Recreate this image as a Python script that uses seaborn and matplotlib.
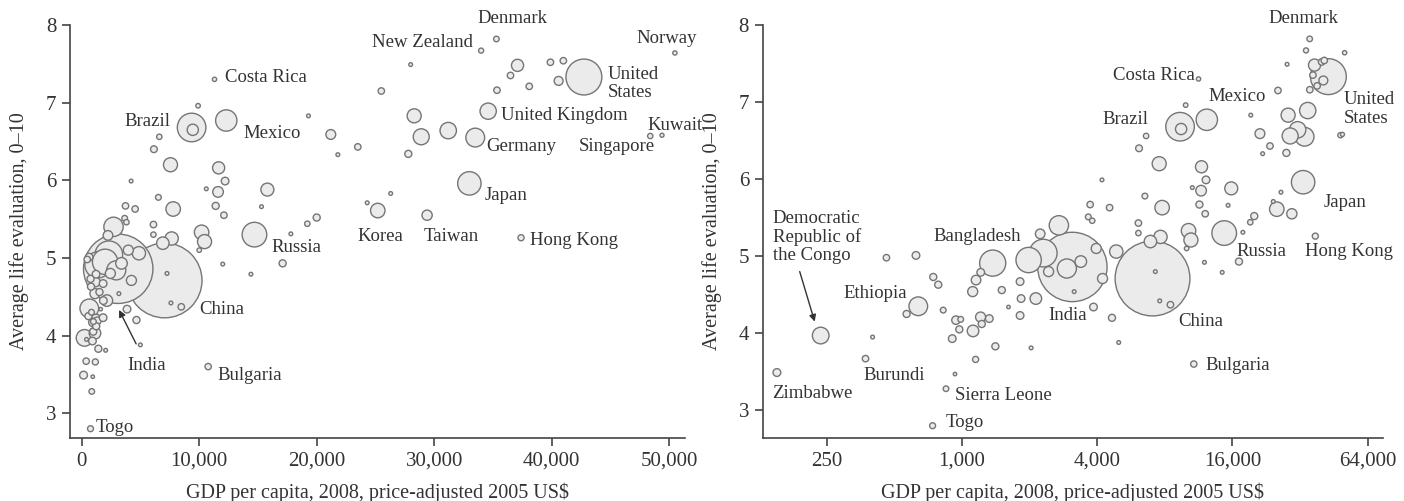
import pandas as pd
import matplotlib.pyplot as plt
import seaborn as sns
from matplotlib.ticker import FuncFormatter, NullLocator


# labelled countries
names = ["Togo", "Zimbabwe", "Democratic Republic of the Congo", "Burundi", "Ethiopia",
         "Sierra Leone", "Bangladesh", "India", "China", "Bulgaria", "Russia", "Hong Kong",
         "Japan", "Korea", "Taiwan", "Germany", "United Kingdom", "United States", "Denmark",
         "New Zealand", "Norway", "Kuwait", "Singapore", "Costa Rica", "Brazil", "Mexico"]
gdp = [740, 150, 235, 372, 639, 849, 1370, 3100, 7050, 10760, 14700, 37400, 33000, 25200,
       29400, 33500, 34600, 42750, 35300, 34000, 50500, 49400, 48400, 11300, 9350, 12300]
life = [2.80, 3.49, 3.97, 3.67, 4.35, 3.28, 4.91, 4.86, 4.71, 3.60, 5.30, 5.26, 5.96, 5.61,
        5.55, 6.55, 6.89, 7.33, 7.82, 7.67, 7.64, 6.58, 6.57, 7.30, 6.68, 6.77]
pop = [6.5, 12.5, 64, 8, 81, 5.6, 160, 1140, 1325, 7.6, 142, 7, 128, 48, 23, 82, 61, 304,
       5.5, 4.3, 2.5, 2.0, 4.8, 2.5, 192, 106]

# other countries (no label)
other_gdp = [9900, 9450, 6600, 6140, 7550, 4200, 11650, 12200, 11600, 10600, 11400, 12100,
             15800, 15300, 19300, 21200, 21800, 23500, 25500, 28000, 37100, 36500, 39900,
             41000, 40600, 38100, 35350, 28300, 28900, 31200, 27800, 26300, 24300, 20000,
             19200, 17800, 17100, 12000, 14400, 2700, 6100, 6100, 6900, 7650, 10200, 10450,
             10000, 7780, 6520, 4540, 3720, 3650, 3800, 461, 624, 567, 400, 745, 784, 825,
             931, 905, 940, 973, 987, 1120, 1210, 1225, 1323, 1150, 1408, 1116, 1155, 1212,
             1504, 1814, 1833, 1814, 2132, 1611, 2031, 2229, 1980, 2300, 2930, 2430, 3380,
             3960, 4224, 3158, 4862, 3850, 4653, 4985, 7255, 7590, 8470]
other_life = [6.96, 6.65, 6.56, 6.40, 6.20, 5.99, 6.16, 5.99, 5.85, 5.89, 5.67, 5.55,
              5.88, 5.66, 6.83, 6.59, 6.33, 6.43, 7.15, 7.49, 7.48, 7.35, 7.52,
              7.54, 7.28, 7.21, 7.16, 6.83, 6.56, 6.64, 6.34, 5.83, 5.71, 5.52,
              5.44, 5.31, 4.93, 4.92, 4.79, 5.40, 5.43, 5.30, 5.19, 5.25, 5.33, 5.21,
              5.10, 5.63, 5.78, 5.63, 5.67, 5.51, 5.46, 4.98, 5.01, 4.25, 3.95, 4.73, 4.63, 4.30,
              3.47, 3.93, 4.17, 4.05, 4.18, 4.03, 4.21, 4.12, 4.19, 3.66, 3.83, 4.54, 4.69, 4.79,
              4.56, 4.67, 4.45, 4.23, 4.45, 4.34, 3.81, 5.29, 4.95, 5.04, 4.84, 4.80, 4.93,
              5.10, 4.71, 4.54, 5.06, 4.34, 4.20, 3.88, 4.80, 4.42, 4.37]
other_pop = [3, 28, 5, 9, 45, 1.5, 33, 12, 25, 1.5, 10, 8,
             38, 1.5, 1.5, 21, 1.5, 8, 8, 1.5, 33, 8, 8,
             8, 17, 8, 8, 45, 59, 62, 10, 1.5, 1.5, 10,
             5, 1.5, 10, 1.5, 1.5, 87, 8, 5, 35, 40, 48, 45,
             3, 48, 6, 8, 8, 6, 5, 8, 12, 10, 1.5, 10, 10, 6,
             1, 12, 15, 10, 6, 30, 22, 10, 12, 7, 10, 22, 20, 12,
             10, 12, 12, 12, 30, 1, 1.5, 20, 150, 180, 85, 22, 30,
             22, 22, 1.5, 40, 12, 10, 1.5, 1.5, 1.5, 8]

df = pd.DataFrame({
    "gdp": gdp + other_gdp,
    "life": life + other_life,
    "pop": pop + other_pop,
})
df = df.sort_values("pop", ascending=False)

plt.rcParams["font.family"] = ["Liberation Serif", "DejaVu Serif"]
text_col = "#333333"

fig = plt.figure(figsize=(14.04, 5.01), dpi=100)
ax1 = fig.add_axes([0.0499, 0.1257, 0.438, 0.8244])
ax2 = fig.add_axes([0.5434, 0.1257, 0.4416, 0.8244])

for ax in (ax1, ax2):
    sns.scatterplot(data=df, x="gdp", y="life", size="pop", sizes=(4, 2900),
                    size_norm=(0, 1325), legend=False, color="#ebebeb",
                    edgecolor="#757575", linewidth=1.0, ax=ax, clip_on=False)
    ax.spines["top"].set_visible(False)
    ax.spines["right"].set_visible(False)
    for s in ("left", "bottom"):
        ax.spines[s].set_color("#444444")
        ax.spines[s].set_linewidth(1.2)
    ax.tick_params(direction="out", length=6, width=1.2, color="#444444",
                   labelsize=15, labelcolor=text_col, pad=4)
    ax.set_yticks([3, 4, 5, 6, 7, 8])
    ax.set_ylabel("Average life evaluation, 0\u201310", fontsize=14.5,
                  color=text_col, labelpad=12)
    ax.set_xlabel(r"GDP per capita, 2008, price-adjusted 2005 US\$", fontsize=14.5,
                  color=text_col, labelpad=8)
    ax.xaxis.set_major_formatter(FuncFormatter(lambda v, p: f"{v:,.0f}"))

# left panel: linear
ax1.set_xlim(-1000, 51360)
ax1.set_ylim(2.68, 8)
ax1.set_xticks([0, 10000, 20000, 30000, 40000, 50000])

# right panel: log
ax2.set_xscale("log", base=2)
ax2.set_xlim(130, 74800)
ax2.set_ylim(2.64, 8)
ax2.set_xticks([250, 1000, 4000, 16000, 64000])
ax2.xaxis.set_minor_locator(NullLocator())
ax2.xaxis.set_major_formatter(FuncFormatter(lambda v, p: f"{v:,.0f}"))

lab = dict(fontsize=13.5, color=text_col, va="center", linespacing=1.1)

left_labels = [
    ("Denmark", 36650, 8.08, "center"), ("New Zealand", 33330, 7.77, "right"),
    ("Norway", 47250, 7.83, "left"), ("United\nStates", 44800, 7.25, "left"),
    ("United Kingdom", 35710, 6.84, "left"), ("Kuwait", 48150, 6.71, "left"),
    ("Singapore", 42350, 6.44, "left"), ("Germany", 34410, 6.44, "left"),
    ("Japan", 34270, 5.81, "left"), ("Korea", 23440, 5.27, "left"),
    ("Taiwan", 29110, 5.27, "left"), ("Hong Kong", 38180, 5.23, "left"),
    ("Costa Rica", 12160, 7.32, "left"), ("Brazil", 7570, 6.76, "right"),
    ("Mexico", 13800, 6.60, "left"), ("Russia", 16130, 5.135, "left"),
    ("China", 9970, 4.34, "left"), ("Bulgaria", 11590, 3.49, "left"),
    ("Togo", 1190, 2.82, "left"),
]
for t, x, y, ha in left_labels:
    ax1.text(x, y, t, ha=ha, clip_on=False, **lab)
ax1.annotate("India", xy=(3170, 4.33), xytext=(3890, 3.62), ha="left",
             arrowprops=dict(arrowstyle="-|>", color="#333333", lw=1.0,
                             shrinkA=8, shrinkB=0, mutation_scale=10),
             **lab)

right_labels = [
    ("Denmark", 33000, 8.08, "center"), ("Costa Rica", 10830, 7.34, "right"),
    ("Mexico", 12550, 7.07, "left"), ("Brazil", 6780, 6.78, "right"),
    ("United\nStates", 50200, 6.91, "left"), ("Japan", 40600, 5.70, "left"),
    ("Russia", 16670, 5.06, "left"), ("Hong Kong", 33600, 5.06, "left"),
    ("China", 9220, 4.15, "left"), ("India", 2420, 4.23, "left"),
    ("Bulgaria", 12130, 3.58, "left"), ("Bangladesh", 746, 5.25, "left"),
    ("Ethiopia", 298, 4.52, "left"), ("Zimbabwe", 143, 3.22, "left"),
    ("Burundi", 366, 3.45, "left"), ("Sierra Leone", 931, 3.19, "left"),
    ("Togo", 849, 2.84, "left"),
]
for t, x, y, ha in right_labels:
    ax2.text(x, y, t, ha=ha, clip_on=False, **lab)
ax2.text(144, 5.25, "Democratic\nRepublic of\nthe Congo", ha="left", **lab)
ax2.annotate("", xy=(221, 4.15), xytext=(189.5, 4.80),
             arrowprops=dict(arrowstyle="-|>", color="#333333", lw=1.0,
                             shrinkA=0, shrinkB=0, mutation_scale=10))

plt.savefig("out.png", dpi=100)
